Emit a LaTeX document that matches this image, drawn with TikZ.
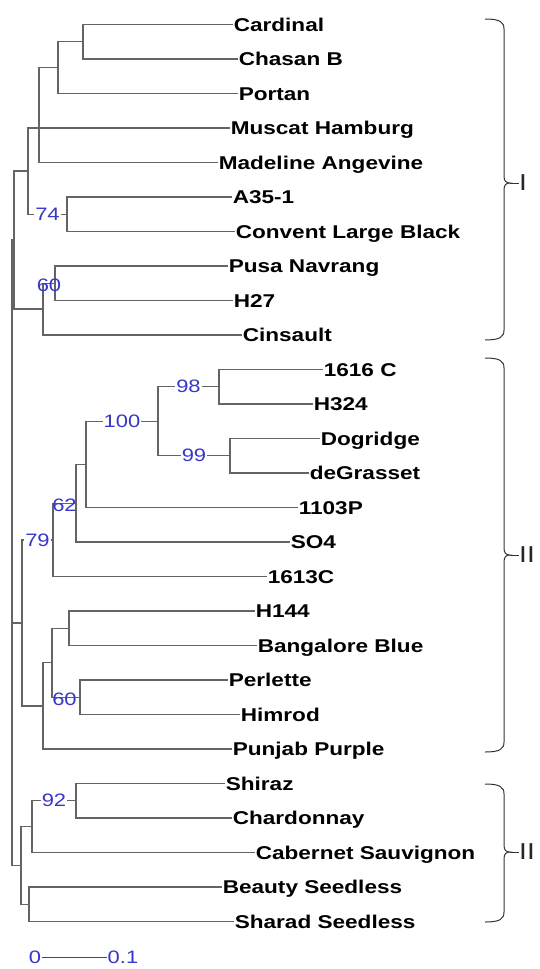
\documentclass[tikz,border=0pt]{standalone}
\usepackage{fontspec}
\usepackage{tikz}
\newfontfamily\treefont[FakeStretch=1.22]{Liberation Sans}
\definecolor{brgray}{RGB}{100,100,100}
\definecolor{bsblue}{RGB}{55,55,200}
% brace for a cluster: name, top, bottom, middle, label
\newcommand{\grpbrace}[5]{%
  \draw[brk] (485,#2) .. controls (500,#2) and (504,#2+3) .. (504,#2+10)
    -- (504,#4-7) .. controls (504,#4-2) and (506,#4) .. (510,#4) coordinate (#1tip)
    .. controls (506,#4) and (504,#4+2) .. (504,#4+7)
    -- (504,#3-10) .. controls (504,#3-3) and (500,#3) .. (485,#3);
  \node[grp] (#1) at (519,#4) {#5};
  \draw[brk] (#1tip) -- (#1.west);
}

\begin{document}
\begin{tikzpicture}[
  x=1pt, y=-1pt,
  leaf/.style={anchor=west, inner sep=0.6pt, text height=13.2pt, text depth=0pt,
    font=\treefont\bfseries\fontsize{18.5}{20}\selectfont, text=black},
  bs/.style={inner sep=1pt, text=bsblue, font=\treefont\fontsize{18}{20}\selectfont},
  grp/.style={anchor=west, inner sep=0pt, text=black!85,
    font=\treefont\fontsize{23}{25}\selectfont},
  br/.style={draw=brgray, line width=1.3pt},
  brk/.style={draw=black!80, line width=1pt}
]
\fill[white] (0,0) rectangle (540,969);

% leaves
\node[leaf] (card) at (233,24.5) {Cardinal};
\node[leaf] (chas) at (238,59) {Chasan B};
\node[leaf] (port) at (238,93.5) {Portan};
\node[leaf] (musc) at (230,128) {Muscat Hamburg};
\node[leaf] (made) at (218,162.5) {Madeline Angevine};
\node[leaf] (a35) at (232,197) {A35-1};
\node[leaf] (conv) at (235,231.5) {Convent Large Black};
\node[leaf] (pusa) at (228,266) {Pusa Navrang};
\node[leaf] (h27) at (233,300.5) {H27};
\node[leaf] (cins) at (242,335) {Cinsault};
\node[leaf] (c1616) at (323,369.5) {1616 C};
\node[leaf] (h324) at (313,404) {H324};
\node[leaf] (dogr) at (320,438.5) {Dogridge};
\node[leaf] (degr) at (309,473) {deGrasset};
\node[leaf] (p1103) at (298,507.5) {1103P};
\node[leaf] (so4) at (290,542) {SO4};
\node[leaf] (c1613) at (267,576.5) {1613C};
\node[leaf] (h144) at (255,611) {H144};
\node[leaf] (bang) at (257,645.5) {Bangalore Blue};
\node[leaf] (perl) at (228,680) {Perlette};
\node[leaf] (himr) at (240,714.5) {Himrod};
\node[leaf] (punj) at (232,749) {Punjab Purple};
\node[leaf] (shir) at (225,783.5) {Shiraz};
\node[leaf] (chard) at (232,818) {Chardonnay};
\node[leaf] (cabs) at (255,852.5) {Cabernet Sauvignon};
\node[leaf] (beau) at (222,887) {Beauty Seedless};
\node[leaf] (shar) at (234,921.5) {Sharad Seedless};

% internal nodes
\coordinate (n1) at (83,41.75);
\coordinate (n2) at (58,67.6);
\coordinate (n3) at (39,128);
\coordinate (n4) at (67,214.25);
\coordinate (n5) at (28,171);
\coordinate (n6) at (55,283.25);
\coordinate (n7) at (43,309);
\coordinate (n8) at (14,240);
\coordinate (n9) at (219,386.75);
\coordinate (n10) at (230,455.75);
\coordinate (n11) at (158,421.25);
\coordinate (n12) at (86,464.4);
\coordinate (n13) at (76,503.2);
\coordinate (n14) at (53,539.85);
\coordinate (n15) at (69,628.25);
\coordinate (n16) at (80,697.25);
\coordinate (n17) at (52,662.75);
\coordinate (n18) at (43,705.9);
\coordinate (n19) at (22,622.9);
\coordinate (n20) at (76,800.75);
\coordinate (n21) at (32,826.6);
\coordinate (n22) at (29,904.25);
\coordinate (n23) at (21,865.4);
\coordinate (root) at (12,622.9);

% branches
\foreach \p/\c in {n1/card.west, n1/chas.west, n2/n1, n2/port.west,
    n3/n2, n3/musc.west, n3/made.west, n4/a35.west, n4/conv.west,
    n5/n3, n6/pusa.west, n6/h27.west, n7/n6, n7/cins.west, n8/n5, n8/n7,
    n9/c1616.west, n9/h324.west, n10/dogr.west, n10/degr.west,
    n12/p1103.west, n13/n12, n13/so4.west, n14/n13, n14/c1613.west,
    n15/h144.west, n15/bang.west, n16/perl.west, n16/himr.west,
    n17/n15, n17/n16, n18/n17, n18/punj.west, n19/n18,
    n20/shir.west, n20/chard.west, n21/cabs.west, n22/beau.west, n22/shar.west,
    n23/n21, n23/n22, root/n8, root/n19, root/n23}
  \draw[br] (\p) |- (\c);

% branches with bootstrap values
\draw[br] (n5) |- node[bs, fill=white, pos=0.75] (bs74) {74} (n4);
\draw[br] (n12) |- node[bs, fill=white, pos=0.75] (bs100) {100} (n11);
\draw[br] (n11) |- node[bs, fill=white, pos=0.75] (bs98) {98} (n9);
\draw[br] (n11) |- node[bs, fill=white, pos=0.75] (bs99) {99} (n10);
\draw[br] (n19) |- node[bs, fill=white, pos=0.75] (bs79) {79} (n14);
\draw[br] (n21) |- node[bs, fill=white, pos=0.75] (bs92) {92} (n20);
\node[bs] (bs60a) at (49,285) {60};
\node[bs] (bs62) at (64.5,505) {62};
\node[bs] (bs60b) at (64.5,699) {60};

% scale bar
\node[bs] (sb0) at (35,957) {0};
\node[bs] (sb1) at (123,957) {0.1};
\draw[bsblue, line width=1pt] (sb0) -- (sb1);

% clusters
\grpbrace{grpI}{19}{340}{183}{I}
\grpbrace{grpII}{358}{752}{555}{II}
\grpbrace{grpIII}{784}{922}{852}{II}
\end{tikzpicture}
\end{document}
